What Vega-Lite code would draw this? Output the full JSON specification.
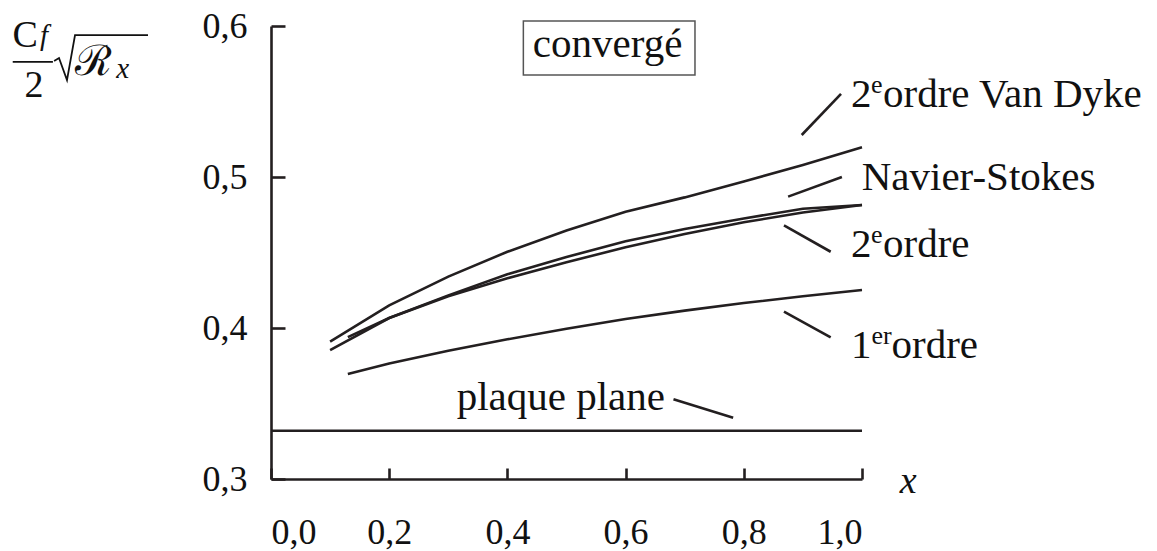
{
  "$schema": "https://vega.github.io/schema/vega-lite/v6.json",
  "width": 591,
  "height": 453,
  "autosize": {"type": "none"},
  "padding": {"left": 271, "top": 26, "right": 295, "bottom": 72},
  "background": "white",
  "config": {"view": {"stroke": null}},
  "datasets": {
    "curves": [
      {"series": "Van Dyke", "x": 0.1, "y": 0.391}, {"series": "Van Dyke", "x": 0.2, "y": 0.415}, {"series": "Van Dyke", "x": 0.3, "y": 0.434}, {"series": "Van Dyke", "x": 0.4, "y": 0.4505}, {"series": "Van Dyke", "x": 0.5, "y": 0.4645}, {"series": "Van Dyke", "x": 0.6, "y": 0.477}, {"series": "Van Dyke", "x": 0.7, "y": 0.4865}, {"series": "Van Dyke", "x": 0.8, "y": 0.497}, {"series": "Van Dyke", "x": 0.9, "y": 0.508}, {"series": "Van Dyke", "x": 1.0, "y": 0.5197},
      {"series": "Navier-Stokes", "x": 0.13, "y": 0.394}, {"series": "Navier-Stokes", "x": 0.2, "y": 0.4066}, {"series": "Navier-Stokes", "x": 0.3, "y": 0.4216}, {"series": "Navier-Stokes", "x": 0.4, "y": 0.4356}, {"series": "Navier-Stokes", "x": 0.5, "y": 0.447}, {"series": "Navier-Stokes", "x": 0.6, "y": 0.4575}, {"series": "Navier-Stokes", "x": 0.7, "y": 0.4655}, {"series": "Navier-Stokes", "x": 0.8, "y": 0.4725}, {"series": "Navier-Stokes", "x": 0.9, "y": 0.479}, {"series": "Navier-Stokes", "x": 1.0, "y": 0.4815},
      {"series": "2e ordre", "x": 0.1, "y": 0.3854}, {"series": "2e ordre", "x": 0.2, "y": 0.4066}, {"series": "2e ordre", "x": 0.3, "y": 0.421}, {"series": "2e ordre", "x": 0.4, "y": 0.4329}, {"series": "2e ordre", "x": 0.5, "y": 0.4435}, {"series": "2e ordre", "x": 0.6, "y": 0.4535}, {"series": "2e ordre", "x": 0.7, "y": 0.4622}, {"series": "2e ordre", "x": 0.8, "y": 0.47}, {"series": "2e ordre", "x": 0.9, "y": 0.4765}, {"series": "2e ordre", "x": 1.0, "y": 0.4815},
      {"series": "1er ordre", "x": 0.13, "y": 0.3695}, {"series": "1er ordre", "x": 0.2, "y": 0.3765}, {"series": "1er ordre", "x": 0.3, "y": 0.385}, {"series": "1er ordre", "x": 0.4, "y": 0.3925}, {"series": "1er ordre", "x": 0.5, "y": 0.3995}, {"series": "1er ordre", "x": 0.6, "y": 0.406}, {"series": "1er ordre", "x": 0.7, "y": 0.4115}, {"series": "1er ordre", "x": 0.8, "y": 0.4165}, {"series": "1er ordre", "x": 0.9, "y": 0.421}, {"series": "1er ordre", "x": 1.0, "y": 0.4252},
      {"series": "plaque plane", "x": 0.0, "y": 0.332}, {"series": "plaque plane", "x": 1.0, "y": 0.332}
    ],
    "leaders": [
      {"x": 0.898, "y": 0.5278, "x2": 0.9645, "y2": 0.555},
      {"x": 0.875, "y": 0.487, "x2": 0.966, "y2": 0.5},
      {"x": 0.868, "y": 0.468, "x2": 0.947, "y2": 0.4505},
      {"x": 0.868, "y": 0.4108, "x2": 0.947, "y2": 0.3938},
      {"x": 0.681, "y": 0.3528, "x2": 0.782, "y2": 0.3406}
    ],
    "labels": [
      {"text": "2", "x": 0.9814, "y": 0.5464},
      {"text": "ordre Van Dyke", "x": 1.0355, "y": 0.5464},
      {"text": "Navier-Stokes", "x": 0.9995, "y": 0.4914},
      {"text": "2", "x": 0.9814, "y": 0.4472},
      {"text": "ordre", "x": 1.0355, "y": 0.4472},
      {"text": "1", "x": 0.9814, "y": 0.3801},
      {"text": "ordre", "x": 1.0499, "y": 0.3801},
      {"text": "plaque plane", "x": 0.3142, "y": 0.3457}
    ],
    "sups": [
      {"text": "e", "x": 1.0152, "y": 0.5556},
      {"text": "e", "x": 1.0152, "y": 0.4565},
      {"text": "er", "x": 1.0162, "y": 0.3894}
    ]
  },
  "encoding": {
    "x": {"type": "quantitative", "scale": {"domain": [0, 1], "nice": false, "zero": false}},
    "y": {"type": "quantitative", "scale": {"domain": [0.3, 0.6], "nice": false, "zero": false}}
  },
  "layer": [
    {
      "data": {"name": "curves"},
      "mark": {"type": "line", "color": "#231f20", "strokeWidth": 2.6, "interpolate": "linear"},
      "encoding": {
        "x": {"field": "x", "type": "quantitative",
          "axis": {"values": [0, 0.2, 0.4, 0.6, 0.8, 1.0], "title": null, "grid": false,
            "domainColor": "#231f20", "domainWidth": 2.6, "tickColor": "#231f20", "tickWidth": 2.6, "tickSize": -11,
            "labelFont": "Liberation Serif", "labelFontSize": 36, "labelColor": "#111", "labelPadding": 47,
            "labelExpr": "replace(format(datum.value, '.1f'), '.', ',')"}},
        "y": {"field": "y", "type": "quantitative",
          "axis": {"values": [0.3, 0.4, 0.5, 0.6], "title": null, "grid": false,
            "domainColor": "#231f20", "domainWidth": 2.6, "tickColor": "#231f20", "tickWidth": 2.6, "tickSize": -14,
            "labelFont": "Liberation Serif", "labelFontSize": 36, "labelColor": "#111", "labelPadding": 38,
            "labelExpr": "replace(format(datum.value, '.1f'), '.', ',')"}},
        "detail": {"field": "series", "type": "nominal"}
      }
    },
    {
      "data": {"name": "leaders"},
      "mark": {"type": "rule", "color": "#231f20", "strokeWidth": 2.6},
      "encoding": {
        "x": {"field": "x", "type": "quantitative"},
        "y": {"field": "y", "type": "quantitative"},
        "x2": {"field": "x2"},
        "y2": {"field": "y2"}
      }
    },
    {
      "data": {"name": "labels"},
      "mark": {"type": "text", "align": "left", "baseline": "alphabetic", "font": "Liberation Serif", "fontSize": 41, "color": "#111"},
      "encoding": {
        "x": {"field": "x", "type": "quantitative"},
        "y": {"field": "y", "type": "quantitative"},
        "text": {"field": "text"}
      }
    },
    {
      "data": {"name": "sups"},
      "mark": {"type": "text", "align": "left", "baseline": "alphabetic", "font": "Liberation Serif", "fontSize": 26, "color": "#111"},
      "encoding": {
        "x": {"field": "x", "type": "quantitative"},
        "y": {"field": "y", "type": "quantitative"},
        "text": {"field": "text"}
      }
    },
    {
      "data": {"values": [{"x1": 0.427, "x2": 0.7174, "y1": 0.5675, "y2": 0.6033}]},
      "mark": {"type": "rect", "fill": null, "stroke": "#555", "strokeWidth": 1.5},
      "encoding": {
        "x": {"field": "x1", "type": "quantitative"},
        "x2": {"field": "x2"},
        "y": {"field": "y1", "type": "quantitative"},
        "y2": {"field": "y2"}
      }
    },
    {
      "data": {"values": [{"text": "convergé", "x": 0.5695, "y": 0.5797}]},
      "mark": {"type": "text", "align": "center", "baseline": "alphabetic", "font": "Liberation Serif", "fontSize": 41, "color": "#111"},
      "encoding": {
        "x": {"field": "x", "type": "quantitative"},
        "y": {"field": "y", "type": "quantitative"},
        "text": {"field": "text"}
      }
    },
    {
      "data": {"values": [{"text": "x", "x": 1.064, "y": 0.2907}]},
      "mark": {"type": "text", "align": "left", "baseline": "alphabetic", "font": "Liberation Serif", "fontStyle": "italic", "fontSize": 38, "color": "#111"},
      "encoding": {
        "x": {"field": "x", "type": "quantitative"},
        "y": {"field": "y", "type": "quantitative"},
        "text": {"field": "text"}
      }
    },
    {
      "data": {"values": [{"text": "C", "x": -0.416, "y": 0.586}, {"text": "2", "x": -0.401, "y": 0.553}]},
      "mark": {"type": "text", "align": "center", "baseline": "alphabetic", "font": "Liberation Serif", "fontSize": 38, "color": "#111"},
      "encoding": {
        "x": {"field": "x", "type": "quantitative"},
        "y": {"field": "y", "type": "quantitative"},
        "text": {"field": "text"}
      }
    },
    {
      "data": {"values": [{"text": "f", "x": -0.391, "y": 0.5874}, {"text": "x", "x": -0.262, "y": 0.5656}]},
      "mark": {"type": "text", "align": "left", "baseline": "alphabetic", "font": "Liberation Serif", "fontStyle": "italic", "fontSize": 29, "color": "#111"},
      "encoding": {
        "x": {"field": "x", "type": "quantitative"},
        "y": {"field": "y", "type": "quantitative"},
        "text": {"field": "text"}
      }
    },
    {
      "data": {"values": [{"text": "ℛ", "x": -0.3316, "y": 0.5675}]},
      "mark": {"type": "text", "align": "left", "baseline": "alphabetic", "font": "DejaVu Serif", "fontSize": 42, "color": "#111"},
      "encoding": {
        "x": {"field": "x", "type": "quantitative"},
        "y": {"field": "y", "type": "quantitative"},
        "text": {"field": "text"}
      }
    },
    {
      "data": {"values": [{"x": -0.437, "y": 0.5762, "x2": -0.369, "y2": 0.5762}]},
      "mark": {"type": "rule", "color": "#111", "strokeWidth": 1.8},
      "encoding": {
        "x": {"field": "x", "type": "quantitative"},
        "y": {"field": "y", "type": "quantitative"},
        "x2": {"field": "x2"},
        "y2": {"field": "y2"}
      }
    },
    {
      "data": {"values": [
        {"i": 0, "x": -0.367, "y": 0.5768},
        {"i": 1, "x": -0.3587, "y": 0.5788},
        {"i": 2, "x": -0.3452, "y": 0.5642},
        {"i": 3, "x": -0.3316, "y": 0.594},
        {"i": 4, "x": -0.2081, "y": 0.594}
      ]},
      "mark": {"type": "line", "color": "#111", "strokeWidth": 1.8},
      "encoding": {
        "x": {"field": "x", "type": "quantitative"},
        "y": {"field": "y", "type": "quantitative"},
        "order": {"field": "i", "type": "quantitative"}
      }
    }
  ]
}
